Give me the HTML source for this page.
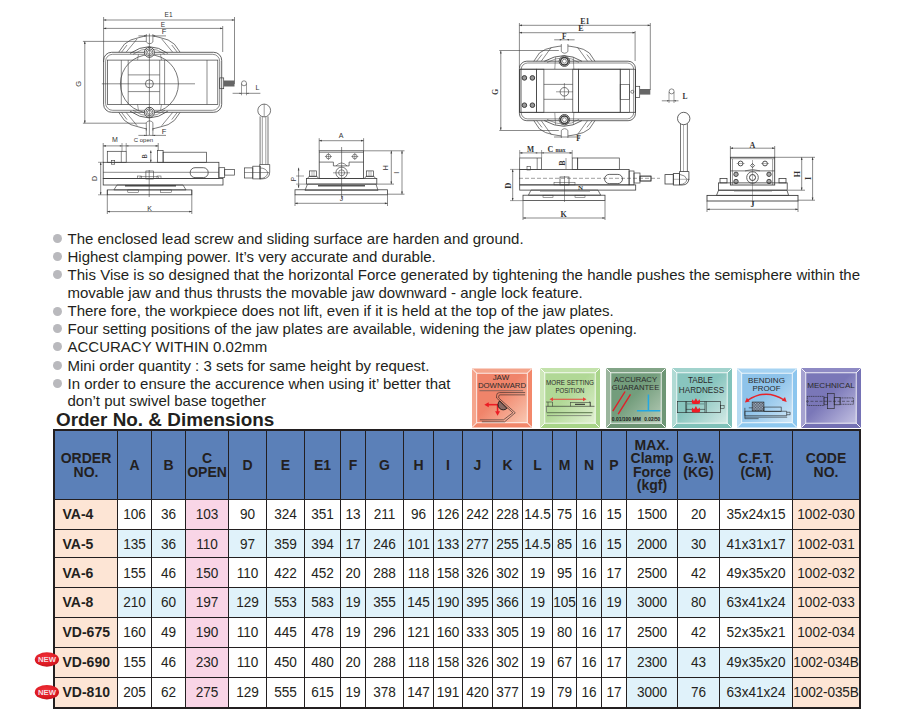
<!DOCTYPE html>
<html><head><meta charset="utf-8">
<style>
html,body{margin:0;padding:0;background:#fff;}
body{width:914px;height:711px;position:relative;overflow:hidden;font-family:"Liberation Sans",sans-serif;color:#231f20;}
.tb,.hc,.bc,.oc{position:absolute;box-sizing:border-box;}
.hc{display:flex;align-items:center;justify-content:center;text-align:center;font-weight:bold;font-size:14px;line-height:13.4px;padding-top:1px;}
.bc{display:flex;align-items:center;justify-content:center;font-size:13.6px;white-space:nowrap;}
.oc{display:flex;align-items:center;font-weight:bold;font-size:14px;padding-left:7.5px;white-space:nowrap;}
.bc span,.oc span{display:inline-block;transform:scaleY(1.1);transform-origin:50% 79%;position:relative;top:-0.3px;}
.bl{position:absolute;left:67.5px;font-size:15px;line-height:18px;white-space:nowrap;color:#231f20;}
.dot{position:absolute;left:53px;width:9px;height:9px;border-radius:50%;background:#b9b9bd;}
.title{position:absolute;left:56px;top:409.3px;font-size:18.9px;font-weight:bold;line-height:22px;white-space:nowrap;}
.ic{position:absolute;top:368px;width:60px;height:60px;box-sizing:border-box;overflow:hidden;}
</style></head><body>

<div class="dot" style="top:234.3px"></div>
<div class="dot" style="top:252.0px"></div>
<div class="dot" style="top:270.1px"></div>
<div class="dot" style="top:306.5px"></div>
<div class="dot" style="top:324.3px"></div>
<div class="dot" style="top:342.4px"></div>
<div class="dot" style="top:361.0px"></div>
<div class="dot" style="top:378.8px"></div>
<div class="bl" style="top:230.0px;">The enclosed lead screw and sliding surface are harden and ground.</div>
<div class="bl" style="top:247.7px;">Highest clamping power. It’s very accurate and durable.</div>
<div class="bl" style="top:265.8px;letter-spacing:0.027px;">This Vise is so designed that the horizontal Force generated by tightening the handle pushes the semisphere within the</div>
<div class="bl" style="top:283.6px;">movable jaw and thus thrusts the movable jaw downward - angle lock feature.</div>
<div class="bl" style="top:302.2px;">There fore, the workpiece does not lift, even if it is held at the top of the jaw plates.</div>
<div class="bl" style="top:320.0px;">Four setting positions of the jaw plates are available, widening the jaw plates opening.</div>
<div class="bl" style="top:338.1px;">ACCURACY WITHIN 0.02mm</div>
<div class="bl" style="top:356.7px;">Mini order quantity : 3 sets for same height by request.</div>
<div class="bl" style="top:374.5px;">In order to ensure the accurence when using it’ better that</div>
<div class="bl" style="top:391.5px;">don’t put swivel base together</div>
<div class="title">Order No. &amp; Dimensions</div>
<div class="tb" style="left:53px;top:429px;width:808px;height:280px;background:#231f20"></div>
<div class="hc" style="left:55px;top:431px;width:62px;height:68px;background:#5b80b8">ORDER<br>NO.</div>
<div class="hc" style="left:118px;top:431px;width:33px;height:68px;background:#5b80b8">A</div>
<div class="hc" style="left:152px;top:431px;width:33px;height:68px;background:#5b80b8">B</div>
<div class="hc" style="left:186px;top:431px;width:42px;height:68px;background:#5b80b8">C<br>OPEN</div>
<div class="hc" style="left:229px;top:431px;width:37px;height:68px;background:#5b80b8">D</div>
<div class="hc" style="left:267px;top:431px;width:37px;height:68px;background:#5b80b8">E</div>
<div class="hc" style="left:305px;top:431px;width:35px;height:68px;background:#5b80b8">E1</div>
<div class="hc" style="left:341px;top:431px;width:24px;height:68px;background:#5b80b8">F</div>
<div class="hc" style="left:366px;top:431px;width:37px;height:68px;background:#5b80b8">G</div>
<div class="hc" style="left:404px;top:431px;width:29px;height:68px;background:#5b80b8">H</div>
<div class="hc" style="left:434px;top:431px;width:28px;height:68px;background:#5b80b8">I</div>
<div class="hc" style="left:463px;top:431px;width:29px;height:68px;background:#5b80b8">J</div>
<div class="hc" style="left:493px;top:431px;width:29px;height:68px;background:#5b80b8">K</div>
<div class="hc" style="left:523px;top:431px;width:29px;height:68px;background:#5b80b8">L</div>
<div class="hc" style="left:553px;top:431px;width:23px;height:68px;background:#5b80b8">M</div>
<div class="hc" style="left:577px;top:431px;width:24px;height:68px;background:#5b80b8">N</div>
<div class="hc" style="left:602px;top:431px;width:24px;height:68px;background:#5b80b8">P</div>
<div class="hc" style="left:627px;top:431px;width:50px;height:68px;background:#5b80b8">MAX.<br>Clamp<br>Force<br>(kgf)</div>
<div class="hc" style="left:678px;top:431px;width:41px;height:68px;background:#5b80b8">G.W.<br>(KG)</div>
<div class="hc" style="left:720px;top:431px;width:72px;height:68px;background:#5b80b8">C.F.T.<br>(CM)</div>
<div class="hc" style="left:793px;top:431px;width:66px;height:68px;background:#5b80b8">CODE<br>NO.</div>
<div class="oc" style="left:55px;top:500px;width:62px;height:29px;background:#fde5d5"><span>VA-4</span></div>
<div class="bc" style="left:118px;top:500px;width:33px;height:29px;background:#fff"><span>106</span></div>
<div class="bc" style="left:152px;top:500px;width:33px;height:29px;background:#fff"><span>36</span></div>
<div class="bc" style="left:186px;top:500px;width:42px;height:29px;background:#f9d5e6"><span>103</span></div>
<div class="bc" style="left:229px;top:500px;width:37px;height:29px;background:#fff"><span>90</span></div>
<div class="bc" style="left:267px;top:500px;width:37px;height:29px;background:#fff"><span>324</span></div>
<div class="bc" style="left:305px;top:500px;width:35px;height:29px;background:#fff"><span>351</span></div>
<div class="bc" style="left:341px;top:500px;width:24px;height:29px;background:#fff"><span>13</span></div>
<div class="bc" style="left:366px;top:500px;width:37px;height:29px;background:#fff"><span>211</span></div>
<div class="bc" style="left:404px;top:500px;width:29px;height:29px;background:#fff"><span>96</span></div>
<div class="bc" style="left:434px;top:500px;width:28px;height:29px;background:#fff"><span>126</span></div>
<div class="bc" style="left:463px;top:500px;width:29px;height:29px;background:#fff"><span>242</span></div>
<div class="bc" style="left:493px;top:500px;width:29px;height:29px;background:#fff"><span>228</span></div>
<div class="bc" style="left:523px;top:500px;width:29px;height:29px;background:#fff"><span>14.5</span></div>
<div class="bc" style="left:553px;top:500px;width:23px;height:29px;background:#fff"><span>75</span></div>
<div class="bc" style="left:577px;top:500px;width:24px;height:29px;background:#fff"><span>16</span></div>
<div class="bc" style="left:602px;top:500px;width:24px;height:29px;background:#fff"><span>15</span></div>
<div class="bc" style="left:627px;top:500px;width:50px;height:29px;background:#fff"><span>1500</span></div>
<div class="bc" style="left:678px;top:500px;width:41px;height:29px;background:#fff"><span>20</span></div>
<div class="bc" style="left:720px;top:500px;width:72px;height:29px;background:#fff"><span>35x24x15</span></div>
<div class="bc" style="left:793px;top:500px;width:66px;height:29px;background:#fde5d5"><span>1002-030</span></div>
<div class="oc" style="left:55px;top:530px;width:62px;height:27px;background:#fde5d5"><span style="top:0.7px">VA-5</span></div>
<div class="bc" style="left:118px;top:530px;width:33px;height:27px;background:#e0f2fa"><span style="top:0.7px">135</span></div>
<div class="bc" style="left:152px;top:530px;width:33px;height:27px;background:#e0f2fa"><span style="top:0.7px">36</span></div>
<div class="bc" style="left:186px;top:530px;width:42px;height:27px;background:#f9d5e6"><span style="top:0.7px">110</span></div>
<div class="bc" style="left:229px;top:530px;width:37px;height:27px;background:#e0f2fa"><span style="top:0.7px">97</span></div>
<div class="bc" style="left:267px;top:530px;width:37px;height:27px;background:#e0f2fa"><span style="top:0.7px">359</span></div>
<div class="bc" style="left:305px;top:530px;width:35px;height:27px;background:#e0f2fa"><span style="top:0.7px">394</span></div>
<div class="bc" style="left:341px;top:530px;width:24px;height:27px;background:#e0f2fa"><span style="top:0.7px">17</span></div>
<div class="bc" style="left:366px;top:530px;width:37px;height:27px;background:#e0f2fa"><span style="top:0.7px">246</span></div>
<div class="bc" style="left:404px;top:530px;width:29px;height:27px;background:#e0f2fa"><span style="top:0.7px">101</span></div>
<div class="bc" style="left:434px;top:530px;width:28px;height:27px;background:#e0f2fa"><span style="top:0.7px">133</span></div>
<div class="bc" style="left:463px;top:530px;width:29px;height:27px;background:#e0f2fa"><span style="top:0.7px">277</span></div>
<div class="bc" style="left:493px;top:530px;width:29px;height:27px;background:#e0f2fa"><span style="top:0.7px">255</span></div>
<div class="bc" style="left:523px;top:530px;width:29px;height:27px;background:#e0f2fa"><span style="top:0.7px">14.5</span></div>
<div class="bc" style="left:553px;top:530px;width:23px;height:27px;background:#e0f2fa"><span style="top:0.7px">85</span></div>
<div class="bc" style="left:577px;top:530px;width:24px;height:27px;background:#e0f2fa"><span style="top:0.7px">16</span></div>
<div class="bc" style="left:602px;top:530px;width:24px;height:27px;background:#e0f2fa"><span style="top:0.7px">15</span></div>
<div class="bc" style="left:627px;top:530px;width:50px;height:27px;background:#e0f2fa"><span style="top:0.7px">2000</span></div>
<div class="bc" style="left:678px;top:530px;width:41px;height:27px;background:#e0f2fa"><span style="top:0.7px">30</span></div>
<div class="bc" style="left:720px;top:530px;width:72px;height:27px;background:#e0f2fa"><span style="top:0.7px">41x31x17</span></div>
<div class="bc" style="left:793px;top:530px;width:66px;height:27px;background:#fde5d5"><span style="top:0.7px">1002-031</span></div>
<div class="oc" style="left:55px;top:558px;width:62px;height:29px;background:#fde5d5"><span style="top:0.7px">VA-6</span></div>
<div class="bc" style="left:118px;top:558px;width:33px;height:29px;background:#fff"><span style="top:0.7px">155</span></div>
<div class="bc" style="left:152px;top:558px;width:33px;height:29px;background:#fff"><span style="top:0.7px">46</span></div>
<div class="bc" style="left:186px;top:558px;width:42px;height:29px;background:#f9d5e6"><span style="top:0.7px">150</span></div>
<div class="bc" style="left:229px;top:558px;width:37px;height:29px;background:#fff"><span style="top:0.7px">110</span></div>
<div class="bc" style="left:267px;top:558px;width:37px;height:29px;background:#fff"><span style="top:0.7px">422</span></div>
<div class="bc" style="left:305px;top:558px;width:35px;height:29px;background:#fff"><span style="top:0.7px">452</span></div>
<div class="bc" style="left:341px;top:558px;width:24px;height:29px;background:#fff"><span style="top:0.7px">20</span></div>
<div class="bc" style="left:366px;top:558px;width:37px;height:29px;background:#fff"><span style="top:0.7px">288</span></div>
<div class="bc" style="left:404px;top:558px;width:29px;height:29px;background:#fff"><span style="top:0.7px">118</span></div>
<div class="bc" style="left:434px;top:558px;width:28px;height:29px;background:#fff"><span style="top:0.7px">158</span></div>
<div class="bc" style="left:463px;top:558px;width:29px;height:29px;background:#fff"><span style="top:0.7px">326</span></div>
<div class="bc" style="left:493px;top:558px;width:29px;height:29px;background:#fff"><span style="top:0.7px">302</span></div>
<div class="bc" style="left:523px;top:558px;width:29px;height:29px;background:#fff"><span style="top:0.7px">19</span></div>
<div class="bc" style="left:553px;top:558px;width:23px;height:29px;background:#fff"><span style="top:0.7px">95</span></div>
<div class="bc" style="left:577px;top:558px;width:24px;height:29px;background:#fff"><span style="top:0.7px">16</span></div>
<div class="bc" style="left:602px;top:558px;width:24px;height:29px;background:#fff"><span style="top:0.7px">17</span></div>
<div class="bc" style="left:627px;top:558px;width:50px;height:29px;background:#fff"><span style="top:0.7px">2500</span></div>
<div class="bc" style="left:678px;top:558px;width:41px;height:29px;background:#fff"><span style="top:0.7px">42</span></div>
<div class="bc" style="left:720px;top:558px;width:72px;height:29px;background:#fff"><span style="top:0.7px">49x35x20</span></div>
<div class="bc" style="left:793px;top:558px;width:66px;height:29px;background:#fde5d5"><span style="top:0.7px">1002-032</span></div>
<div class="oc" style="left:55px;top:588px;width:62px;height:29px;background:#fde5d5"><span>VA-8</span></div>
<div class="bc" style="left:118px;top:588px;width:33px;height:29px;background:#e0f2fa"><span>210</span></div>
<div class="bc" style="left:152px;top:588px;width:33px;height:29px;background:#e0f2fa"><span>60</span></div>
<div class="bc" style="left:186px;top:588px;width:42px;height:29px;background:#f9d5e6"><span>197</span></div>
<div class="bc" style="left:229px;top:588px;width:37px;height:29px;background:#e0f2fa"><span>129</span></div>
<div class="bc" style="left:267px;top:588px;width:37px;height:29px;background:#e0f2fa"><span>553</span></div>
<div class="bc" style="left:305px;top:588px;width:35px;height:29px;background:#e0f2fa"><span>583</span></div>
<div class="bc" style="left:341px;top:588px;width:24px;height:29px;background:#e0f2fa"><span>19</span></div>
<div class="bc" style="left:366px;top:588px;width:37px;height:29px;background:#e0f2fa"><span>355</span></div>
<div class="bc" style="left:404px;top:588px;width:29px;height:29px;background:#e0f2fa"><span>145</span></div>
<div class="bc" style="left:434px;top:588px;width:28px;height:29px;background:#e0f2fa"><span>190</span></div>
<div class="bc" style="left:463px;top:588px;width:29px;height:29px;background:#e0f2fa"><span>395</span></div>
<div class="bc" style="left:493px;top:588px;width:29px;height:29px;background:#e0f2fa"><span>366</span></div>
<div class="bc" style="left:523px;top:588px;width:29px;height:29px;background:#e0f2fa"><span>19</span></div>
<div class="bc" style="left:553px;top:588px;width:23px;height:29px;background:#e0f2fa"><span>105</span></div>
<div class="bc" style="left:577px;top:588px;width:24px;height:29px;background:#e0f2fa"><span>16</span></div>
<div class="bc" style="left:602px;top:588px;width:24px;height:29px;background:#e0f2fa"><span>19</span></div>
<div class="bc" style="left:627px;top:588px;width:50px;height:29px;background:#e0f2fa"><span>3000</span></div>
<div class="bc" style="left:678px;top:588px;width:41px;height:29px;background:#e0f2fa"><span>80</span></div>
<div class="bc" style="left:720px;top:588px;width:72px;height:29px;background:#e0f2fa"><span>63x41x24</span></div>
<div class="bc" style="left:793px;top:588px;width:66px;height:29px;background:#fde5d5"><span>1002-033</span></div>
<div class="oc" style="left:55px;top:618px;width:62px;height:29px;background:#fde5d5"><span>VD-675</span></div>
<div class="bc" style="left:118px;top:618px;width:33px;height:29px;background:#fff"><span>160</span></div>
<div class="bc" style="left:152px;top:618px;width:33px;height:29px;background:#fff"><span>49</span></div>
<div class="bc" style="left:186px;top:618px;width:42px;height:29px;background:#f9d5e6"><span>190</span></div>
<div class="bc" style="left:229px;top:618px;width:37px;height:29px;background:#fff"><span>110</span></div>
<div class="bc" style="left:267px;top:618px;width:37px;height:29px;background:#fff"><span>445</span></div>
<div class="bc" style="left:305px;top:618px;width:35px;height:29px;background:#fff"><span>478</span></div>
<div class="bc" style="left:341px;top:618px;width:24px;height:29px;background:#fff"><span>19</span></div>
<div class="bc" style="left:366px;top:618px;width:37px;height:29px;background:#fff"><span>296</span></div>
<div class="bc" style="left:404px;top:618px;width:29px;height:29px;background:#fff"><span>121</span></div>
<div class="bc" style="left:434px;top:618px;width:28px;height:29px;background:#fff"><span>160</span></div>
<div class="bc" style="left:463px;top:618px;width:29px;height:29px;background:#fff"><span>333</span></div>
<div class="bc" style="left:493px;top:618px;width:29px;height:29px;background:#fff"><span>305</span></div>
<div class="bc" style="left:523px;top:618px;width:29px;height:29px;background:#fff"><span>19</span></div>
<div class="bc" style="left:553px;top:618px;width:23px;height:29px;background:#fff"><span>80</span></div>
<div class="bc" style="left:577px;top:618px;width:24px;height:29px;background:#fff"><span>16</span></div>
<div class="bc" style="left:602px;top:618px;width:24px;height:29px;background:#fff"><span>17</span></div>
<div class="bc" style="left:627px;top:618px;width:50px;height:29px;background:#fff"><span>2500</span></div>
<div class="bc" style="left:678px;top:618px;width:41px;height:29px;background:#fff"><span>42</span></div>
<div class="bc" style="left:720px;top:618px;width:72px;height:29px;background:#fff"><span>52x35x21</span></div>
<div class="bc" style="left:793px;top:618px;width:66px;height:29px;background:#fde5d5"><span>1002-034</span></div>
<div class="oc" style="left:55px;top:648px;width:62px;height:29px;background:#fde5d5"><span>VD-690</span></div>
<div class="bc" style="left:118px;top:648px;width:33px;height:29px;background:#fff"><span>155</span></div>
<div class="bc" style="left:152px;top:648px;width:33px;height:29px;background:#fff"><span>46</span></div>
<div class="bc" style="left:186px;top:648px;width:42px;height:29px;background:#f9d5e6"><span>230</span></div>
<div class="bc" style="left:229px;top:648px;width:37px;height:29px;background:#fff"><span>110</span></div>
<div class="bc" style="left:267px;top:648px;width:37px;height:29px;background:#fff"><span>450</span></div>
<div class="bc" style="left:305px;top:648px;width:35px;height:29px;background:#fff"><span>480</span></div>
<div class="bc" style="left:341px;top:648px;width:24px;height:29px;background:#fff"><span>20</span></div>
<div class="bc" style="left:366px;top:648px;width:37px;height:29px;background:#fff"><span>288</span></div>
<div class="bc" style="left:404px;top:648px;width:29px;height:29px;background:#fff"><span>118</span></div>
<div class="bc" style="left:434px;top:648px;width:28px;height:29px;background:#fff"><span>158</span></div>
<div class="bc" style="left:463px;top:648px;width:29px;height:29px;background:#fff"><span>326</span></div>
<div class="bc" style="left:493px;top:648px;width:29px;height:29px;background:#fff"><span>302</span></div>
<div class="bc" style="left:523px;top:648px;width:29px;height:29px;background:#fff"><span>19</span></div>
<div class="bc" style="left:553px;top:648px;width:23px;height:29px;background:#fff"><span>67</span></div>
<div class="bc" style="left:577px;top:648px;width:24px;height:29px;background:#fff"><span>16</span></div>
<div class="bc" style="left:602px;top:648px;width:24px;height:29px;background:#fff"><span>17</span></div>
<div class="bc" style="left:627px;top:648px;width:50px;height:29px;background:#e0f2fa"><span>2300</span></div>
<div class="bc" style="left:678px;top:648px;width:41px;height:29px;background:#e0f2fa"><span>43</span></div>
<div class="bc" style="left:720px;top:648px;width:72px;height:29px;background:#e0f2fa"><span>49x35x20</span></div>
<div class="bc" style="left:793px;top:648px;width:66px;height:29px;background:#fde5d5"><span style="letter-spacing:-0.12px">1002-034B</span></div>
<div class="oc" style="left:55px;top:678px;width:62px;height:29px;background:#fde5d5"><span>VD-810</span></div>
<div class="bc" style="left:118px;top:678px;width:33px;height:29px;background:#fff"><span>205</span></div>
<div class="bc" style="left:152px;top:678px;width:33px;height:29px;background:#fff"><span>62</span></div>
<div class="bc" style="left:186px;top:678px;width:42px;height:29px;background:#f9d5e6"><span>275</span></div>
<div class="bc" style="left:229px;top:678px;width:37px;height:29px;background:#fff"><span>129</span></div>
<div class="bc" style="left:267px;top:678px;width:37px;height:29px;background:#fff"><span>555</span></div>
<div class="bc" style="left:305px;top:678px;width:35px;height:29px;background:#fff"><span>615</span></div>
<div class="bc" style="left:341px;top:678px;width:24px;height:29px;background:#fff"><span>19</span></div>
<div class="bc" style="left:366px;top:678px;width:37px;height:29px;background:#fff"><span>378</span></div>
<div class="bc" style="left:404px;top:678px;width:29px;height:29px;background:#fff"><span>147</span></div>
<div class="bc" style="left:434px;top:678px;width:28px;height:29px;background:#fff"><span>191</span></div>
<div class="bc" style="left:463px;top:678px;width:29px;height:29px;background:#fff"><span>420</span></div>
<div class="bc" style="left:493px;top:678px;width:29px;height:29px;background:#fff"><span>377</span></div>
<div class="bc" style="left:523px;top:678px;width:29px;height:29px;background:#fff"><span>19</span></div>
<div class="bc" style="left:553px;top:678px;width:23px;height:29px;background:#fff"><span>79</span></div>
<div class="bc" style="left:577px;top:678px;width:24px;height:29px;background:#fff"><span>16</span></div>
<div class="bc" style="left:602px;top:678px;width:24px;height:29px;background:#fff"><span>17</span></div>
<div class="bc" style="left:627px;top:678px;width:50px;height:29px;background:#e0f2fa"><span>3000</span></div>
<div class="bc" style="left:678px;top:678px;width:41px;height:29px;background:#e0f2fa"><span>76</span></div>
<div class="bc" style="left:720px;top:678px;width:72px;height:29px;background:#e0f2fa"><span>63x41x24</span></div>
<div class="bc" style="left:793px;top:678px;width:66px;height:29px;background:#fde5d5"><span style="letter-spacing:-0.12px">1002-035B</span></div>
<svg style="position:absolute;left:30px;top:648px" width="34" height="56" viewBox="0 0 34 56">
<defs><radialGradient id="nb" cx="0.45" cy="0.35" r="0.7"><stop offset="0" stop-color="#f0323a"/><stop offset="0.7" stop-color="#dd1a22"/><stop offset="1" stop-color="#b8141c"/></radialGradient></defs>
<ellipse cx="16.9" cy="11.5" rx="12.1" ry="7.2" fill="url(#nb)"/>
<text x="17" y="14.1" font-family="Liberation Sans" font-weight="bold" font-size="7.6" fill="#f4dfe3" text-anchor="middle" textLength="18" lengthAdjust="spacingAndGlyphs">NEW</text>
<ellipse cx="16.9" cy="44.2" rx="12.1" ry="7.2" fill="url(#nb)"/>
<text x="17" y="46.8" font-family="Liberation Sans" font-weight="bold" font-size="7.6" fill="#f4dfe3" text-anchor="middle" textLength="18" lengthAdjust="spacingAndGlyphs">NEW</text>
</svg>

<style>.it{font-family:"Liberation Sans",sans-serif;font-size:8px;fill:#2b2b2b;stroke:none;text-anchor:middle;}</style>
<svg class="ic" style="left:472px" width="61" height="60" viewBox="0 0 61 60">
<defs><linearGradient id="g0" x1="0" y1="0" x2="1" y2="1"><stop offset="0.45" stop-color="#f0846a"/><stop offset="1" stop-color="#f9c8b2"/></linearGradient></defs>
<polygon points="0,0 61,0 56.2,4.8 4.8,4.8" fill="#f4a48b"/>
<polygon points="0,0 4.8,4.8 4.8,55.2 0,60" fill="#f5a58d"/>
<polygon points="0,60 4.8,55.2 56.2,55.2 61,60" fill="#f2876a"/>
<polygon points="61,0 61,60 56.2,55.2 56.2,4.8" fill="#f3886b"/>
<rect x="4.8" y="4.8" width="51.4" height="50.4" fill="url(#g0)"/>
<rect x="4.8" y="4.8" width="51.4" height="50.4" fill="none" stroke="#fff" stroke-opacity="0.85" stroke-width="0.9"/>
<path d="M0.5 0.5 L4.8 4.8 M60.5 0.5 L56.2 4.8 M0.5 59.5 L4.8 55.2 M60.5 59.5 L56.2 55.2" stroke="#fff" stroke-width="0.9"/>
<text x="29.4" y="11.7" class="it" textLength="16.8" lengthAdjust="spacingAndGlyphs">JAW</text>
<text x="30.5" y="20" class="it" textLength="49" lengthAdjust="spacingAndGlyphs">DOWNWARD</text>
<line x1="7.6" y1="22.6" x2="52" y2="22.6" stroke="#555" stroke-width="0.7"/>
<path d="M54 24.5 H28 Q25 24.5 25 27.5 V30 L41.5 45 L32 52.2 H8" fill="none" stroke="#222" stroke-width="0.6"/>
<path d="M54 26.8 H28.5 Q27.2 26.8 27.2 28.2 V30 L44 45 L33.2 54.2 H10" fill="none" stroke="#222" stroke-width="0.6"/>
<path d="M27 36.8 H15.5" stroke="#ec1c24" stroke-width="1.6"/>
<path d="M12.5 36.8 L17 34.3 V39.3 Z" fill="#ec1c24"/>
<path d="M26 36.8 V45" stroke="#ec1c24" stroke-width="1.6"/>
<path d="M26 48 L23.5 43.5 H28.5 Z" fill="#ec1c24"/>
<path d="M28 33 A4.2 4.2 0 0 0 35.5 40.5 Z" fill="#8a6a64" stroke="#111" stroke-width="0.9"/>
</svg>
<svg class="ic" style="left:540px" width="60" height="60" viewBox="0 0 60 60">
<defs><linearGradient id="g1" x1="0" y1="0" x2="1" y2="1"><stop offset="0.45" stop-color="#b1d896"/><stop offset="1" stop-color="#e2f1d3"/></linearGradient></defs>
<polygon points="0,0 60,0 55.2,4.8 4.8,4.8" fill="#c3e2ab"/>
<polygon points="0,0 4.8,4.8 4.8,55.2 0,60" fill="#cde7b8"/>
<polygon points="0,60 4.8,55.2 55.2,55.2 60,60" fill="#a8d488"/>
<polygon points="60,0 60,60 55.2,55.2 55.2,4.8" fill="#aad58b"/>
<rect x="4.8" y="4.8" width="50.4" height="50.4" fill="url(#g1)"/>
<rect x="4.8" y="4.8" width="50.4" height="50.4" fill="none" stroke="#fff" stroke-opacity="0.85" stroke-width="0.9"/>
<path d="M0.5 0.5 L4.8 4.8 M59.5 0.5 L55.2 4.8 M0.5 59.5 L4.8 55.2 M59.5 59.5 L55.2 55.2" stroke="#fff" stroke-width="0.9"/>
<text x="30" y="16.6" class="it" textLength="48" lengthAdjust="spacingAndGlyphs">MORE SETTING</text>
<text x="30" y="24.5" class="it" textLength="29" lengthAdjust="spacingAndGlyphs">POSITION</text>
<path d="M11.5 31.2 H44.5" stroke="#e8433a" stroke-width="1.1"/>
<path d="M9.5 31.2 L13 29.2 V33.2 Z M46.5 31.2 L43 29.2 V33.2 Z" fill="#e8433a"/>
<path d="M5.8 38.3 H54.5" stroke="#222" stroke-width="0.6"/>
<path d="M6 34 H8 V38.3 M8 34 H12.5 V38.3 M30.5 34 V38.3 M30.5 34.5 H50 V38.3 M49 34 H50.5 V38.3" fill="none" stroke="#222" stroke-width="0.5"/>
<path d="M35 36.3 H45" stroke="#222" stroke-width="1"/>
<path d="M6.5 38.5 V44" stroke="#777" stroke-width="0.8"/>
<path d="M6.5 44.7 H52.5" stroke="#6f8a5f" stroke-width="1.2"/>
<path d="M7 47.6 H51.5" stroke="#555" stroke-width="0.6"/>
</svg>
<svg class="ic" style="left:606px" width="60" height="60" viewBox="0 0 60 60">
<defs><linearGradient id="g2" x1="0" y1="0" x2="1" y2="1"><stop offset="0.45" stop-color="#739d7c"/><stop offset="1" stop-color="#b7ccb8"/></linearGradient></defs>
<polygon points="0,0 60,0 55.2,4.8 4.8,4.8" fill="#82a487"/>
<polygon points="0,0 4.8,4.8 4.8,55.2 0,60" fill="#9ab59d"/>
<polygon points="0,60 4.8,55.2 55.2,55.2 60,60" fill="#6c9373"/>
<polygon points="60,0 60,60 55.2,55.2 55.2,4.8" fill="#6e9675"/>
<rect x="4.8" y="4.8" width="50.4" height="50.4" fill="url(#g2)"/>
<rect x="4.8" y="4.8" width="50.4" height="50.4" fill="none" stroke="#fff" stroke-opacity="0.85" stroke-width="0.9"/>
<path d="M0.5 0.5 L4.8 4.8 M59.5 0.5 L55.2 4.8 M0.5 59.5 L4.8 55.2 M59.5 59.5 L55.2 55.2" stroke="#fff" stroke-width="0.9"/>
<text x="29.5" y="13.7" class="it" textLength="43" lengthAdjust="spacingAndGlyphs">ACCURACY</text>
<text x="29.5" y="21.5" class="it" textLength="47.5" lengthAdjust="spacingAndGlyphs">GUARANTEE</text>
<path d="M19.1 23.5 L6.8 43.2 M24.5 26.4 L12.2 46.1" stroke="#e0202a" stroke-width="1.4"/>
<path d="M42.4 26.4 V42.7 M30.9 42.7 H54.2" stroke="#22a8e2" stroke-width="1.5"/>
<text x="5.8" y="52.8" font-family="Liberation Sans" font-size="5.6" font-weight="bold" fill="#1a1a1a" textLength="29" lengthAdjust="spacingAndGlyphs">0.01/100 MM</text>
<text x="38.3" y="52.8" font-family="Liberation Sans" font-size="5.6" font-weight="bold" fill="#1a1a1a" textLength="16" lengthAdjust="spacingAndGlyphs">0.02/50</text>
</svg>
<svg class="ic" style="left:672px" width="60" height="60" viewBox="0 0 60 60">
<defs><linearGradient id="g3" x1="0" y1="0" x2="1" y2="1"><stop offset="0.45" stop-color="#88c5be"/><stop offset="1" stop-color="#d4eae6"/></linearGradient></defs>
<polygon points="0,0 60,0 55.2,4.8 4.8,4.8" fill="#a2d3cd"/>
<polygon points="0,0 4.8,4.8 4.8,55.2 0,60" fill="#b0dad4"/>
<polygon points="0,60 4.8,55.2 55.2,55.2 60,60" fill="#80c1b9"/>
<polygon points="60,0 60,60 55.2,55.2 55.2,4.8" fill="#82c3bb"/>
<rect x="4.8" y="4.8" width="50.4" height="50.4" fill="url(#g3)"/>
<rect x="4.8" y="4.8" width="50.4" height="50.4" fill="none" stroke="#fff" stroke-opacity="0.85" stroke-width="0.9"/>
<path d="M0.5 0.5 L4.8 4.8 M59.5 0.5 L55.2 4.8 M0.5 59.5 L4.8 55.2 M59.5 59.5 L55.2 55.2" stroke="#fff" stroke-width="0.9"/>
<text x="28.5" y="15.4" class="it" style="font-size:8.6px" textLength="25" lengthAdjust="spacingAndGlyphs">TABLE</text>
<text x="29.5" y="25.2" class="it" style="font-size:8.6px" textLength="45.3" lengthAdjust="spacingAndGlyphs">HARDNESS</text>
<rect x="5.3" y="33.3" width="43.3" height="11.4" fill="none" stroke="#222" stroke-width="0.6"/>
<path d="M13.7 33.3 V44.7 M14.6 33.3 V44.7 M32.9 33.3 V44.7 M34.3 33.3 V44.7 M14 41.4 H33" stroke="#222" stroke-width="0.55"/><path d="M14.6 35.9 H32.9" stroke="#6a9590" stroke-width="1.1"/>
<rect x="48.6" y="37.3" width="3.5" height="3" fill="none" stroke="#222" stroke-width="0.5"/>
<path d="M20 35.6 Q19.3 33 20.3 31.3 L22 33.2 L23.9 30.2 L25.8 33.2 L27.5 31.3 Q28.5 33 27.8 35.6 Q24 36.6 20 35.6 Z" fill="#ee1c25"/>
<path d="M20 44 Q19.3 41.4 20.3 39.4 L22 41.4 L23.9 38.1 L25.8 41.4 L27.5 39.4 Q28.5 41.4 27.8 44 Q24 45 20 44 Z" fill="#ee1c25"/>
</svg>
<svg class="ic" style="left:737px" width="61" height="60" viewBox="0 0 61 60">
<defs><linearGradient id="g4" x1="0" y1="0" x2="1" y2="1"><stop offset="0.45" stop-color="#8ec3ea"/><stop offset="1" stop-color="#d2e8f7"/></linearGradient></defs>
<polygon points="0,0 61,0 56.2,4.8 4.8,4.8" fill="#a6d3f2"/>
<polygon points="0,0 4.8,4.8 4.8,55.2 0,60" fill="#b7dbf3"/>
<polygon points="0,60 4.8,55.2 56.2,55.2 61,60" fill="#8ec8ef"/>
<polygon points="61,0 61,60 56.2,55.2 56.2,4.8" fill="#8cc6ee"/>
<rect x="4.8" y="4.8" width="51.4" height="50.4" fill="url(#g4)"/>
<rect x="4.8" y="4.8" width="51.4" height="50.4" fill="none" stroke="#fff" stroke-opacity="0.85" stroke-width="0.9"/>
<path d="M0.5 0.5 L4.8 4.8 M60.5 0.5 L56.2 4.8 M0.5 59.5 L4.8 55.2 M60.5 59.5 L56.2 55.2" stroke="#fff" stroke-width="0.9"/>
<text x="30" y="14.4" class="it" textLength="37.5" lengthAdjust="spacingAndGlyphs">BENDING</text>
<text x="30" y="23" class="it" textLength="28.5" lengthAdjust="spacingAndGlyphs">PROOF</text>
<path d="M10.5 32.5 Q29 20 48 32" fill="none" stroke="#e8232a" stroke-width="1.4"/>
<path d="M8 34.5 L10 29.8 L13 33.5 Z M50.5 34 L45.5 32.5 L48.8 29 Z" fill="#e8232a"/>
<defs><pattern id="hp" width="1.6" height="1.6" patternUnits="userSpaceOnUse"><rect width="1.6" height="1.6" fill="#a9b8c8"/><rect width="0.8" height="0.8" fill="#4a5260"/><rect x="0.8" y="0.8" width="0.8" height="0.8" fill="#4a5260"/></pattern></defs><rect x="15.4" y="34.1" width="12" height="9.1" fill="url(#hp)" stroke="#222" stroke-width="0.6"/>
<rect x="27.4" y="39.2" width="17.5" height="4.5" fill="none" stroke="#222" stroke-width="0.6"/>
<path d="M8 43.5 H50.5 V48 H8 Z M8 40 V51 M8 49.5 H51 M8 51 H22 M50.5 44.5 H54 V47 H50.5 M12 40 H15.4" fill="none" stroke="#222" stroke-width="0.6"/>
</svg>
<svg class="ic" style="left:801px" width="60" height="60" viewBox="0 0 60 60">
<defs><linearGradient id="g5" x1="0" y1="0" x2="1" y2="1"><stop offset="0.45" stop-color="#7a77b8"/><stop offset="1" stop-color="#c2c0e2"/></linearGradient></defs>
<polygon points="0,0 60,0 55.2,4.8 4.8,4.8" fill="#8e8ac4"/>
<polygon points="0,0 4.8,4.8 4.8,55.2 0,60" fill="#a5a2d0"/>
<polygon points="0,60 4.8,55.2 55.2,55.2 60,60" fill="#7471b4"/>
<polygon points="60,0 60,60 55.2,55.2 55.2,4.8" fill="#7572b5"/>
<rect x="4.8" y="4.8" width="50.4" height="50.4" fill="url(#g5)"/>
<rect x="4.8" y="4.8" width="50.4" height="50.4" fill="none" stroke="#fff" stroke-opacity="0.85" stroke-width="0.9"/>
<path d="M0.5 0.5 L4.8 4.8 M59.5 0.5 L55.2 4.8 M0.5 59.5 L4.8 55.2 M59.5 59.5 L55.2 55.2" stroke="#fff" stroke-width="0.9"/>
<text x="30" y="19.6" class="it" textLength="47.7" lengthAdjust="spacingAndGlyphs">MECHNICAL</text>
<rect x="6.3" y="28.4" width="16.7" height="9.1" fill="none" stroke="#222" stroke-width="0.6" stroke-dasharray="1.2 0.6"/>
<path d="M5 33.3 H54" stroke="#222" stroke-width="0.5" stroke-dasharray="3 1.5"/>
<rect x="23" y="29.4" width="3.3" height="7.4" fill="none" stroke="#222" stroke-width="0.5"/>
<rect x="26.3" y="25.5" width="6.9" height="15.2" fill="none" stroke="#222" stroke-width="0.6"/>
<rect x="33.2" y="29.4" width="5.9" height="7.4" fill="none" stroke="#222" stroke-width="0.6"/>
<rect x="39.1" y="29.9" width="13.3" height="6.4" fill="none" stroke="#222" stroke-width="0.6" stroke-dasharray="1.2 0.5"/>
</svg>
<svg style="position:absolute;left:0;top:0" width="914" height="222" viewBox="0 0 914 222"><line x1="103.6" y1="20" x2="234.5" y2="20" stroke="#3c3c3c" stroke-width="0.6" />
<path d="M103.60 20.00 L106.20 19.17 L106.20 20.83 Z" fill="#3c3c3c"/>
<path d="M234.50 20.00 L231.90 20.83 L231.90 19.17 Z" fill="#3c3c3c"/>
<text x="168.6" y="17" font-family="Liberation Sans" font-size="6.5" fill="#333" text-anchor="middle">E1</text>
<line x1="103.6" y1="28.4" x2="222.7" y2="28.4" stroke="#3c3c3c" stroke-width="0.6" />
<path d="M103.60 28.40 L106.20 27.57 L106.20 29.23 Z" fill="#3c3c3c"/>
<path d="M222.70 28.40 L220.10 29.23 L220.10 27.57 Z" fill="#3c3c3c"/>
<text x="163" y="26.5" font-family="Liberation Sans" font-size="6.5" fill="#333" text-anchor="middle">E</text>
<line x1="138.4" y1="35.9" x2="166" y2="35.9" stroke="#3c3c3c" stroke-width="0.6" />
<path d="M146.30 35.90 L144.10 36.60 L144.10 35.20 Z" fill="#3c3c3c"/>
<path d="M152.90 35.90 L155.10 35.20 L155.10 36.60 Z" fill="#3c3c3c"/>
<text x="164" y="33.5" font-family="Liberation Sans" font-size="7.5" fill="#333" text-anchor="middle">F</text>
<line x1="103.6" y1="17" x2="103.6" y2="62" stroke="#3c3c3c" stroke-width="0.6" />
<line x1="234.5" y1="17" x2="234.5" y2="84" stroke="#3c3c3c" stroke-width="0.6" />
<line x1="222.7" y1="26" x2="222.7" y2="52" stroke="#3c3c3c" stroke-width="0.6" />
<line x1="84.8" y1="41.4" x2="84.8" y2="123.2" stroke="#3c3c3c" stroke-width="0.6" />
<path d="M84.80 41.40 L85.63 44.00 L83.97 44.00 Z" fill="#3c3c3c"/>
<path d="M84.80 123.20 L83.97 120.60 L85.63 120.60 Z" fill="#3c3c3c"/>
<text x="81.5" y="83.8" font-family="Liberation Sans" font-size="7.5" fill="#333" text-anchor="middle" transform="rotate(-90 81.5 83.8)">G</text>
<line x1="82.9" y1="41.4" x2="146" y2="41.4" stroke="#3c3c3c" stroke-width="0.6" />
<line x1="82.9" y1="123.2" x2="146" y2="123.2" stroke="#3c3c3c" stroke-width="0.6" />
<g >
<path d="M118.8 52.1 L124.4 44.2 Q130 39 138.9 37.6 Q145 36 146.3 35.8 M152.9 35.8 Q154 36 160 37.6 Q169 39 174.4 44.2 L180 52.1" fill="none" stroke="#3c3c3c" stroke-width="0.7" />
<path d="M121.6 52.1 L127 45" fill="none" stroke="#3c3c3c" stroke-width="0.6" />
<path d="M177.2 52.1 L171.8 45" fill="none" stroke="#3c3c3c" stroke-width="0.6" />
<path d="M126.2 52.1 L137.1 38.9 M172.6 52.1 L161.7 38.9" fill="none" stroke="#3c3c3c" stroke-width="0.6" />
<path d="M146.3 34 V42 Q149.6 45.5 152.9 42 V34" fill="none" stroke="#3c3c3c" stroke-width="0.6" />
<path d="M130.1 53.4 Q149.4 40 167.8 53.4" fill="none" stroke="#3c3c3c" stroke-width="0.8" />
<path d="M133 54.3 Q149.4 43 165 54.3" fill="none" stroke="#3c3c3c" stroke-width="0.5" />
<line x1="138.5" y1="54.3" x2="137.5" y2="60.1" stroke="#3c3c3c" stroke-width="0.5" />
<line x1="160.5" y1="54.3" x2="161.5" y2="60.1" stroke="#3c3c3c" stroke-width="0.5" />
</g>
<g transform="translate(0,164.6) scale(1,-1)">
<path d="M118.8 52.1 L124.4 44.2 Q130 39 138.9 37.6 Q145 36 146.3 35.8 M152.9 35.8 Q154 36 160 37.6 Q169 39 174.4 44.2 L180 52.1" fill="none" stroke="#3c3c3c" stroke-width="0.7" />
<path d="M121.6 52.1 L127 45" fill="none" stroke="#3c3c3c" stroke-width="0.6" />
<path d="M177.2 52.1 L171.8 45" fill="none" stroke="#3c3c3c" stroke-width="0.6" />
<path d="M126.2 52.1 L137.1 38.9 M172.6 52.1 L161.7 38.9" fill="none" stroke="#3c3c3c" stroke-width="0.6" />
<path d="M146.3 34 V42 Q149.6 45.5 152.9 42 V34" fill="none" stroke="#3c3c3c" stroke-width="0.6" />
<path d="M130.1 53.4 Q149.4 40 167.8 53.4" fill="none" stroke="#3c3c3c" stroke-width="0.8" />
<path d="M133 54.3 Q149.4 43 165 54.3" fill="none" stroke="#3c3c3c" stroke-width="0.5" />
<line x1="138.5" y1="54.3" x2="137.5" y2="60.1" stroke="#3c3c3c" stroke-width="0.5" />
<line x1="160.5" y1="54.3" x2="161.5" y2="60.1" stroke="#3c3c3c" stroke-width="0.5" />
</g>
<rect x="103.6" y="52.3" width="118.1" height="60.0" rx="8" fill="none" stroke="#3c3c3c" stroke-width="0.8" />
<rect x="105.6" y="54.3" width="114.1" height="56.0" rx="7" fill="none" stroke="#3c3c3c" stroke-width="0.6" />
<rect x="107.5" y="60.1" width="110.30000000000001" height="44.300000000000004" rx="0" fill="none" stroke="#3c3c3c" stroke-width="0.7" />
<circle cx="149.4" cy="83.8" r="29" fill="none" stroke="#3c3c3c" stroke-width="0.7"/>
<line x1="121.3" y1="60.1" x2="121.3" y2="104.4" stroke="#3c3c3c" stroke-width="0.6" />
<line x1="128.2" y1="60.1" x2="128.2" y2="104.4" stroke="#3c3c3c" stroke-width="0.6" />
<line x1="159.7" y1="60.1" x2="159.7" y2="104.4" stroke="#3c3c3c" stroke-width="0.6" />
<line x1="164.6" y1="60.1" x2="164.6" y2="104.4" stroke="#3c3c3c" stroke-width="0.6" />
<line x1="207" y1="60.1" x2="207" y2="104.4" stroke="#3c3c3c" stroke-width="0.6" />
<line x1="128.2" y1="74.9" x2="159.7" y2="74.9" stroke="#3c3c3c" stroke-width="0.6" />
<line x1="128.2" y1="91.6" x2="159.7" y2="91.6" stroke="#3c3c3c" stroke-width="0.6" />
<circle cx="149.4" cy="52.3" r="5" fill="#fff" stroke="#3c3c3c" stroke-width="0.9"/>
<circle cx="149.4" cy="52.3" r="3.5" fill="none" stroke="#3c3c3c" stroke-width="0.7"/>
<circle cx="149.4" cy="52.3" r="2" fill="none" stroke="#3c3c3c" stroke-width="0.6"/>
<circle cx="149.4" cy="112.3" r="5" fill="#fff" stroke="#3c3c3c" stroke-width="0.9"/>
<circle cx="149.4" cy="112.3" r="3.5" fill="none" stroke="#3c3c3c" stroke-width="0.7"/>
<circle cx="149.4" cy="112.3" r="2" fill="none" stroke="#3c3c3c" stroke-width="0.6"/>
<circle cx="149.4" cy="83.8" r="4" fill="none" stroke="#3c3c3c" stroke-width="0.7"/>
<line x1="101.8" y1="83.8" x2="195" y2="83.8" stroke="#3c3c3c" stroke-width="0.6" />
<line x1="149.4" y1="33.6" x2="149.4" y2="135" stroke="#3c3c3c" stroke-width="0.6" />
<line x1="138.4" y1="135.4" x2="166" y2="135.4" stroke="#3c3c3c" stroke-width="0.6" />
<path d="M146.30 135.40 L144.10 136.10 L144.10 134.70 Z" fill="#3c3c3c"/>
<path d="M152.90 135.40 L155.10 134.70 L155.10 136.10 Z" fill="#3c3c3c"/>
<text x="164" y="133.7" font-family="Liberation Sans" font-size="7.5" fill="#333" text-anchor="middle">F</text>
<line x1="146.3" y1="128" x2="146.3" y2="136" stroke="#3c3c3c" stroke-width="0.6" />
<line x1="152.9" y1="128" x2="152.9" y2="136" stroke="#3c3c3c" stroke-width="0.6" />
<rect x="219.7" y="77.9" width="4.0" height="10.799999999999997" rx="0" fill="none" stroke="#3c3c3c" stroke-width="0.7" />
<rect x="223.7" y="80.5" width="10.800000000000011" height="6.0" rx="0" fill="#666" stroke="#3c3c3c" stroke-width="0" />
<circle cx="244" cy="83.3" r="2.5" fill="none" stroke="#3c3c3c" stroke-width="0.6"/>
<line x1="241.5" y1="83.5" x2="241.5" y2="95.3" stroke="#3c3c3c" stroke-width="0.5" />
<line x1="246.5" y1="83.5" x2="246.5" y2="95.3" stroke="#3c3c3c" stroke-width="0.5" />
<line x1="232.6" y1="93.3" x2="260.4" y2="93.3" stroke="#3c3c3c" stroke-width="0.6" />
<path d="M241.50 93.30 L239.50 93.94 L239.50 92.66 Z" fill="#3c3c3c"/>
<path d="M246.50 93.30 L248.50 92.66 L248.50 93.94 Z" fill="#3c3c3c"/>
<text x="257.5" y="90" font-family="Liberation Sans" font-size="7" fill="#333" text-anchor="middle">L</text>
<line x1="103.2" y1="145.9" x2="158.2" y2="145.9" stroke="#3c3c3c" stroke-width="0.6" />
<path d="M103.20 145.90 L105.80 145.07 L105.80 146.73 Z" fill="#3c3c3c"/>
<path d="M122.00 145.90 L119.80 146.60 L119.80 145.20 Z" fill="#3c3c3c"/>
<path d="M126.20 145.90 L128.40 145.20 L128.40 146.60 Z" fill="#3c3c3c"/>
<path d="M158.20 145.90 L155.60 146.73 L155.60 145.07 Z" fill="#3c3c3c"/>
<line x1="122" y1="143" x2="122" y2="151.3" stroke="#3c3c3c" stroke-width="0.5" />
<line x1="126.2" y1="143" x2="126.2" y2="151.3" stroke="#3c3c3c" stroke-width="0.5" />
<text x="115" y="141.5" font-family="Liberation Sans" font-size="7" fill="#333" text-anchor="middle">M</text>
<text x="143.4" y="141.5" font-family="Liberation Sans" font-size="6" fill="#333" text-anchor="middle">C open</text>
<line x1="103.2" y1="143" x2="103.2" y2="162.3" stroke="#3c3c3c" stroke-width="0.6" />
<line x1="158.2" y1="143" x2="158.2" y2="150.5" stroke="#3c3c3c" stroke-width="0.6" />
<rect x="107.3" y="151.3" width="18.900000000000006" height="11.0" rx="0" fill="none" stroke="#3c3c3c" stroke-width="0.7" />
<line x1="121.3" y1="151.3" x2="121.3" y2="162.3" stroke="#3c3c3c" stroke-width="0.6" />
<rect x="157.4" y="150.5" width="5.699999999999989" height="11.800000000000011" rx="0" fill="none" stroke="#3c3c3c" stroke-width="0.7" />
<rect x="163.1" y="152.2" width="43.5" height="10.100000000000023" rx="0" fill="none" stroke="#3c3c3c" stroke-width="0.7" />
<line x1="150.8" y1="150.5" x2="150.8" y2="162.3" stroke="#3c3c3c" stroke-width="0.6" />
<path d="M150.80 150.50 L151.63 153.10 L149.97 153.10 Z" fill="#3c3c3c"/>
<path d="M150.80 162.30 L149.97 159.70 L151.63 159.70 Z" fill="#3c3c3c"/>
<text x="147.5" y="156.4" font-family="Liberation Sans" font-size="6.5" fill="#333" text-anchor="middle" transform="rotate(-90 147.5 156.4)">B</text>
<rect x="111.4" y="160.4" width="3.299999999999997" height="3.799999999999983" rx="0" fill="none" stroke="#3c3c3c" stroke-width="0.6" />
<rect x="103.2" y="162.3" width="115.7" height="16.099999999999994" rx="0" fill="none" stroke="#3c3c3c" stroke-width="0.8" />
<line x1="103.2" y1="172.3" x2="218.9" y2="172.3" stroke="#3c3c3c" stroke-width="0.6" />
<rect x="190.2" y="167.7" width="18.0" height="9.900000000000006" rx="4.8" fill="none" stroke="#3c3c3c" stroke-width="0.8" />
<rect x="218.9" y="167.7" width="5.799999999999983" height="9.900000000000006" rx="0" fill="none" stroke="#3c3c3c" stroke-width="0.7" />
<rect x="224.7" y="169.4" width="9.800000000000011" height="5.699999999999989" rx="0" fill="none" stroke="#3c3c3c" stroke-width="0.7" />
<rect x="103.2" y="178.4" width="119.8" height="6.599999999999994" rx="0" fill="none" stroke="#3c3c3c" stroke-width="0.8" />
<path d="M113.9 189.9 L117 185 L183 185 L186 189.9 Z" fill="none" stroke="#3c3c3c" stroke-width="0.7" />
<line x1="125" y1="185.8" x2="176" y2="185.8" stroke="#444" stroke-width="1.6" />
<rect x="107.3" y="189.9" width="84.50000000000001" height="4.900000000000006" rx="0" fill="none" stroke="#3c3c3c" stroke-width="0.8" />
<rect x="127.8" y="189.9" width="10.700000000000003" height="2.5" rx="0" fill="none" stroke="#3c3c3c" stroke-width="0.5" />
<rect x="160.6" y="189.9" width="10.700000000000017" height="2.5" rx="0" fill="none" stroke="#3c3c3c" stroke-width="0.5" />
<line x1="100.7" y1="162.3" x2="100.7" y2="194.8" stroke="#3c3c3c" stroke-width="0.6" />
<path d="M100.70 162.30 L101.53 164.90 L99.87 164.90 Z" fill="#3c3c3c"/>
<path d="M100.70 194.80 L99.87 192.20 L101.53 192.20 Z" fill="#3c3c3c"/>
<text x="97.5" y="178.4" font-family="Liberation Sans" font-size="7" fill="#333" text-anchor="middle" transform="rotate(-90 97.5 178.4)">D</text>
<line x1="98" y1="162.3" x2="104" y2="162.3" stroke="#3c3c3c" stroke-width="0.5" />
<line x1="98" y1="194.8" x2="107.3" y2="194.8" stroke="#3c3c3c" stroke-width="0.5" />
<line x1="107.3" y1="211.6" x2="191.8" y2="211.6" stroke="#3c3c3c" stroke-width="0.6" />
<path d="M107.30 211.60 L109.90 210.77 L109.90 212.43 Z" fill="#3c3c3c"/>
<path d="M191.80 211.60 L189.20 212.43 L189.20 210.77 Z" fill="#3c3c3c"/>
<line x1="107.3" y1="190" x2="107.3" y2="214" stroke="#3c3c3c" stroke-width="0.6" />
<line x1="191.8" y1="190" x2="191.8" y2="214" stroke="#3c3c3c" stroke-width="0.6" />
<text x="149.6" y="210.5" font-family="Liberation Sans" font-size="7" fill="#333" text-anchor="middle">K</text>
<line x1="149.2" y1="170" x2="149.2" y2="197" stroke="#3c3c3c" stroke-width="0.6" />
<rect x="145.9" y="171" width="7.400000000000006" height="8" rx="0" fill="none" stroke="#3c3c3c" stroke-width="0.6" />
<rect x="140" y="176.8" width="18.5" height="1.5999999999999943" rx="0" fill="none" stroke="#3c3c3c" stroke-width="0.5" />
<rect x="137.5" y="176" width="4.0" height="2.4000000000000057" rx="0" fill="none" stroke="#3c3c3c" stroke-width="0.5" />
<rect x="157" y="176" width="4" height="2.4000000000000057" rx="0" fill="none" stroke="#3c3c3c" stroke-width="0.5" />
<circle cx="264.2" cy="110.5" r="6.4" fill="none" stroke="#3c3c3c" stroke-width="0.7"/>
<line x1="264.2" y1="104" x2="264.2" y2="116.9" stroke="#3c3c3c" stroke-width="0.5" />
<line x1="260.1" y1="116.4" x2="260.1" y2="164.5" stroke="#3c3c3c" stroke-width="0.7" />
<line x1="268" y1="116.4" x2="268" y2="164.5" stroke="#3c3c3c" stroke-width="0.7" />
<line x1="262.3" y1="116.9" x2="262.3" y2="164.5" stroke="#3c3c3c" stroke-width="0.5" />
<line x1="265.8" y1="116.9" x2="265.8" y2="164.5" stroke="#3c3c3c" stroke-width="0.5" />
<path d="M259.6 164.5 H269.7 V172 Q269.7 178.9 262 178.9 H259.6 Z" fill="none" stroke="#3c3c3c" stroke-width="0.7" />
<path d="M260.4 168 Q266 168 268 173 Q266 178.5 260.4 178.5" fill="none" stroke="#3c3c3c" stroke-width="0.6" />
<rect x="252.8" y="166.2" width="7.599999999999966" height="12.700000000000017" rx="0" fill="none" stroke="#3c3c3c" stroke-width="0.7" />
<line x1="252.8" y1="172.5" x2="269" y2="172.5" stroke="#3c3c3c" stroke-width="0.5" />
<rect x="244.4" y="167.9" width="8.400000000000006" height="10.099999999999994" rx="0" fill="none" stroke="#3c3c3c" stroke-width="0.7" />
<line x1="244.4" y1="172.5" x2="252.8" y2="172.5" stroke="#3c3c3c" stroke-width="0.5" />
<line x1="319.2" y1="140.7" x2="363.6" y2="140.7" stroke="#3c3c3c" stroke-width="0.6" />
<path d="M319.20 140.70 L321.80 139.87 L321.80 141.53 Z" fill="#3c3c3c"/>
<path d="M363.60 140.70 L361.00 141.53 L361.00 139.87 Z" fill="#3c3c3c"/>
<text x="341" y="137.5" font-family="Liberation Sans" font-size="7" fill="#333" text-anchor="middle">A</text>
<line x1="319.2" y1="138.2" x2="319.2" y2="150.8" stroke="#3c3c3c" stroke-width="0.6" />
<line x1="363.6" y1="138.2" x2="363.6" y2="150.8" stroke="#3c3c3c" stroke-width="0.6" />
<rect x="319.2" y="150.8" width="44.400000000000034" height="27.69999999999999" rx="0" fill="none" stroke="#3c3c3c" stroke-width="0.8" />
<line x1="319.2" y1="152.3" x2="363.6" y2="152.3" stroke="#3c3c3c" stroke-width="0.6" />
<path d="M319.2 162.1 H333.4 V165.9 H349.1 V162.1 H363.6" fill="none" stroke="#3c3c3c" stroke-width="0.7" />
<circle cx="328.4" cy="156.5" r="2.3" fill="none" stroke="#3c3c3c" stroke-width="0.6"/>
<line x1="324.9" y1="156.5" x2="331.9" y2="156.5" stroke="#3c3c3c" stroke-width="0.5" />
<line x1="328.4" y1="153" x2="328.4" y2="160" stroke="#3c3c3c" stroke-width="0.5" />
<circle cx="354.8" cy="156.5" r="2.3" fill="none" stroke="#3c3c3c" stroke-width="0.6"/>
<line x1="351.3" y1="156.5" x2="358.3" y2="156.5" stroke="#3c3c3c" stroke-width="0.5" />
<line x1="354.8" y1="153" x2="354.8" y2="160" stroke="#3c3c3c" stroke-width="0.5" />
<path d="M336 165.9 Q341.6 160 347 165.9" fill="none" stroke="#3c3c3c" stroke-width="0.6" />
<circle cx="341.6" cy="172.8" r="5.7" fill="none" stroke="#3c3c3c" stroke-width="0.7"/>
<circle cx="341.6" cy="172.8" r="3" fill="none" stroke="#3c3c3c" stroke-width="0.6"/>
<line x1="341.6" y1="147" x2="341.6" y2="199" stroke="#3c3c3c" stroke-width="0.6" />
<line x1="333" y1="172.8" x2="350" y2="172.8" stroke="#3c3c3c" stroke-width="0.5" />
<rect x="306.4" y="178.5" width="70.40000000000003" height="5.599999999999994" rx="0" fill="none" stroke="#3c3c3c" stroke-width="0.8" />
<rect x="309.5" y="170.9" width="7.0" height="5.400000000000006" rx="0" fill="none" stroke="#3c3c3c" stroke-width="0.7" />
<rect x="366.5" y="170.9" width="7.0" height="5.400000000000006" rx="0" fill="none" stroke="#3c3c3c" stroke-width="0.7" />
<path d="M307.6 178.5 L309 176.3 H317 L318.5 178.5 M364.5 178.5 L366 176.3 H374 L375.5 178.5" fill="none" stroke="#3c3c3c" stroke-width="0.7" />
<line x1="312" y1="171" x2="312" y2="176" stroke="#3c3c3c" stroke-width="0.4" />
<line x1="314" y1="171" x2="314" y2="176" stroke="#3c3c3c" stroke-width="0.4" />
<line x1="369" y1="171" x2="369" y2="176" stroke="#3c3c3c" stroke-width="0.4" />
<line x1="371" y1="171" x2="371" y2="176" stroke="#3c3c3c" stroke-width="0.4" />
<line x1="318" y1="185.7" x2="365" y2="185.7" stroke="#555" stroke-width="1.5" />
<path d="M305 190.4 L307.5 184.1 H376 L378 190.4 Z" fill="none" stroke="#3c3c3c" stroke-width="0.7" />
<rect x="295" y="189.8" width="92.5" height="5.0" rx="0" fill="none" stroke="#3c3c3c" stroke-width="0.8" />
<line x1="295" y1="203.3" x2="387.5" y2="203.3" stroke="#3c3c3c" stroke-width="0.6" />
<path d="M295.00 203.30 L297.60 202.47 L297.60 204.13 Z" fill="#3c3c3c"/>
<path d="M387.50 203.30 L384.90 204.13 L384.90 202.47 Z" fill="#3c3c3c"/>
<line x1="295" y1="194.8" x2="295" y2="206" stroke="#3c3c3c" stroke-width="0.6" />
<line x1="387.5" y1="194.8" x2="387.5" y2="206" stroke="#3c3c3c" stroke-width="0.6" />
<text x="341.5" y="200.5" font-family="Liberation Sans" font-size="7" fill="#333" text-anchor="middle">J</text>
<line x1="391.3" y1="150.8" x2="391.3" y2="184.1" stroke="#3c3c3c" stroke-width="0.6" />
<path d="M391.30 150.80 L392.13 153.40 L390.47 153.40 Z" fill="#3c3c3c"/>
<path d="M391.30 184.10 L390.47 181.50 L392.13 181.50 Z" fill="#3c3c3c"/>
<text x="388" y="167.8" font-family="Liberation Sans" font-size="7" fill="#333" text-anchor="middle" transform="rotate(-90 388 167.8)">H</text>
<line x1="402" y1="150.8" x2="402" y2="194.2" stroke="#3c3c3c" stroke-width="0.6" />
<path d="M402.00 150.80 L402.83 153.40 L401.17 153.40 Z" fill="#3c3c3c"/>
<path d="M402.00 194.20 L401.17 191.60 L402.83 191.60 Z" fill="#3c3c3c"/>
<text x="399" y="172.8" font-family="Liberation Sans" font-size="7" fill="#333" text-anchor="middle" transform="rotate(-90 399 172.8)">I</text>
<line x1="363.6" y1="150.8" x2="404.5" y2="150.8" stroke="#3c3c3c" stroke-width="0.6" />
<line x1="376.8" y1="184.1" x2="394" y2="184.1" stroke="#3c3c3c" stroke-width="0.6" />
<line x1="387.5" y1="194.2" x2="404.5" y2="194.2" stroke="#3c3c3c" stroke-width="0.6" />
<line x1="298.6" y1="167.8" x2="298.6" y2="187.9" stroke="#3c3c3c" stroke-width="0.6" />
<path d="M298.60 167.80 L299.43 170.40 L297.77 170.40 Z" fill="#3c3c3c"/>
<path d="M298.60 187.90 L297.77 185.30 L299.43 185.30 Z" fill="#3c3c3c"/>
<line x1="296" y1="176" x2="304" y2="176" stroke="#3c3c3c" stroke-width="0.5" />
<line x1="296" y1="184.1" x2="306.4" y2="184.1" stroke="#3c3c3c" stroke-width="0.5" />
<text x="296" y="179.1" font-family="Liberation Sans" font-size="6.5" fill="#333" text-anchor="middle" transform="rotate(-90 296 179.1)">P</text>
<line x1="519.4" y1="25.3" x2="650.3" y2="25.3" stroke="#3c3c3c" stroke-width="0.6" />
<path d="M519.40 25.30 L522.00 24.47 L522.00 26.13 Z" fill="#3c3c3c"/>
<path d="M650.30 25.30 L647.70 26.13 L647.70 24.47 Z" fill="#3c3c3c"/>
<text x="584.9" y="23.5" font-family="Liberation Serif" font-size="8" font-weight="bold" fill="#333" text-anchor="middle">E1</text>
<line x1="519.4" y1="32.7" x2="635.1" y2="32.7" stroke="#3c3c3c" stroke-width="0.6" />
<path d="M519.40 32.70 L522.00 31.87 L522.00 33.53 Z" fill="#3c3c3c"/>
<path d="M635.10 32.70 L632.50 33.53 L632.50 31.87 Z" fill="#3c3c3c"/>
<text x="580.8" y="31" font-family="Liberation Serif" font-size="8" font-weight="bold" fill="#333" text-anchor="middle">E</text>
<line x1="554.2" y1="39.8" x2="574.6" y2="39.8" stroke="#3c3c3c" stroke-width="0.6" />
<path d="M562.00 39.80 L559.80 40.50 L559.80 39.10 Z" fill="#3c3c3c"/>
<path d="M566.80 39.80 L569.00 39.10 L569.00 40.50 Z" fill="#3c3c3c"/>
<text x="564.4" y="38.5" font-family="Liberation Serif" font-size="7.5" font-weight="bold" fill="#333" text-anchor="middle">F</text>
<line x1="519.4" y1="23" x2="519.4" y2="67.7" stroke="#3c3c3c" stroke-width="0.6" />
<line x1="650.3" y1="23" x2="650.3" y2="90" stroke="#3c3c3c" stroke-width="0.6" />
<line x1="635.1" y1="31" x2="635.1" y2="61" stroke="#3c3c3c" stroke-width="0.6" />
<line x1="500.8" y1="50.9" x2="500.8" y2="130" stroke="#3c3c3c" stroke-width="0.6" />
<path d="M500.80 50.90 L501.63 53.50 L499.97 53.50 Z" fill="#3c3c3c"/>
<path d="M500.80 130.00 L499.97 127.40 L501.63 127.40 Z" fill="#3c3c3c"/>
<text x="498" y="91.8" font-family="Liberation Serif" font-size="8" font-weight="bold" fill="#333" text-anchor="middle" transform="rotate(-90 498 91.8)">G</text>
<line x1="499.3" y1="50.5" x2="558.8" y2="50.5" stroke="#3c3c3c" stroke-width="0.6" />
<line x1="499.3" y1="130.5" x2="558.8" y2="130.5" stroke="#3c3c3c" stroke-width="0.6" />
<g >
<path d="M533.8 61.3 L539.4 53 Q545 48.5 553 47.3 Q559 46.2 561.3 46 M567.9 46 Q570 46.2 576 47.3 Q584 48.5 589.4 53 L595 61.3" fill="none" stroke="#3c3c3c" stroke-width="0.7" />
<path d="M536.6 61.3 L542 54.5" fill="none" stroke="#3c3c3c" stroke-width="0.6" />
<path d="M592.2 61.3 L586.8 54.5" fill="none" stroke="#3c3c3c" stroke-width="0.6" />
<path d="M541.2 61.3 L551.3 47.3 M587.6 61.3 L577.5 47.3" fill="none" stroke="#3c3c3c" stroke-width="0.6" />
<path d="M561.3 44 V51.5 Q564.6 55 567.9 51.5 V44" fill="none" stroke="#3c3c3c" stroke-width="0.6" />
<path d="M544.3 61.3 Q564.4 50 581.9 61.3" fill="none" stroke="#3c3c3c" stroke-width="0.8" />
<path d="M547 62.5 Q564.4 53 579 62.5" fill="none" stroke="#3c3c3c" stroke-width="0.5" />
<line x1="555.5" y1="57.3" x2="554.8" y2="69.1" stroke="#3c3c3c" stroke-width="0.5" />
<line x1="573.3" y1="57.3" x2="573.8" y2="69.1" stroke="#3c3c3c" stroke-width="0.5" />
</g>
<g transform="translate(0,181.9) scale(1,-1)">
<path d="M533.8 61.3 L539.4 53 Q545 48.5 553 47.3 Q559 46.2 561.3 46 M567.9 46 Q570 46.2 576 47.3 Q584 48.5 589.4 53 L595 61.3" fill="none" stroke="#3c3c3c" stroke-width="0.7" />
<path d="M536.6 61.3 L542 54.5" fill="none" stroke="#3c3c3c" stroke-width="0.6" />
<path d="M592.2 61.3 L586.8 54.5" fill="none" stroke="#3c3c3c" stroke-width="0.6" />
<path d="M541.2 61.3 L551.3 47.3 M587.6 61.3 L577.5 47.3" fill="none" stroke="#3c3c3c" stroke-width="0.6" />
<path d="M561.3 44 V51.5 Q564.6 55 567.9 51.5 V44" fill="none" stroke="#3c3c3c" stroke-width="0.6" />
<path d="M544.3 61.3 Q564.4 50 581.9 61.3" fill="none" stroke="#3c3c3c" stroke-width="0.8" />
<path d="M547 62.5 Q564.4 53 579 62.5" fill="none" stroke="#3c3c3c" stroke-width="0.5" />
<line x1="555.5" y1="57.3" x2="554.8" y2="69.1" stroke="#3c3c3c" stroke-width="0.5" />
<line x1="573.3" y1="57.3" x2="573.8" y2="69.1" stroke="#3c3c3c" stroke-width="0.5" />
</g>
<rect x="519.4" y="61.2" width="116.10000000000002" height="59.5" rx="7.4" fill="none" stroke="#3c3c3c" stroke-width="0.8" />
<rect x="521.2" y="63" width="112.5" height="55.900000000000006" rx="6.4" fill="none" stroke="#3c3c3c" stroke-width="0.6" />
<rect x="519.8" y="69.2" width="115.70000000000005" height="43.099999999999994" rx="0" fill="none" stroke="#3c3c3c" stroke-width="0.8" />
<rect x="519.8" y="69.2" width="16.700000000000045" height="43.099999999999994" rx="0" fill="none" stroke="#3c3c3c" stroke-width="0.7" />
<circle cx="524.4" cy="77.9" r="2.3" fill="#999" stroke="#3c3c3c" stroke-width="1.0"/>
<circle cx="532.4" cy="77.9" r="2.3" fill="#999" stroke="#3c3c3c" stroke-width="1.0"/>
<circle cx="524.4" cy="105.2" r="2.3" fill="#999" stroke="#3c3c3c" stroke-width="1.0"/>
<circle cx="532.4" cy="105.2" r="2.3" fill="#999" stroke="#3c3c3c" stroke-width="1.0"/>
<rect x="536.5" y="69.2" width="7.399999999999977" height="43.099999999999994" rx="0" fill="none" stroke="#3c3c3c" stroke-width="0.7" />
<rect x="572.8" y="69.2" width="5.600000000000023" height="43.099999999999994" rx="0" fill="none" stroke="#3c3c3c" stroke-width="0.7" />
<line x1="543.9" y1="84.4" x2="572.8" y2="84.4" stroke="#3c3c3c" stroke-width="0.6" />
<line x1="543.9" y1="99.3" x2="572.8" y2="99.3" stroke="#3c3c3c" stroke-width="0.6" />
<rect x="578.4" y="69.2" width="41.80000000000007" height="43.099999999999994" rx="0" fill="none" stroke="#3c3c3c" stroke-width="0.7" />
<rect x="620.2" y="69.2" width="9.299999999999955" height="43.099999999999994" rx="0" fill="none" stroke="#3c3c3c" stroke-width="0.6" />
<rect x="620.2" y="84.4" width="9.299999999999955" height="14.899999999999991" rx="0" fill="none" stroke="#3c3c3c" stroke-width="0.6" />
<circle cx="564.4" cy="61.2" r="5.2" fill="#fff" stroke="#3c3c3c" stroke-width="0.9"/>
<circle cx="564.4" cy="61.2" r="3.8" fill="none" stroke="#3c3c3c" stroke-width="1.5"/>
<circle cx="564.4" cy="61.2" r="2" fill="none" stroke="#3c3c3c" stroke-width="0.6"/>
<circle cx="564.4" cy="119.7" r="5.2" fill="#fff" stroke="#3c3c3c" stroke-width="0.9"/>
<circle cx="564.4" cy="119.7" r="3.8" fill="none" stroke="#3c3c3c" stroke-width="1.5"/>
<circle cx="564.4" cy="119.7" r="2" fill="none" stroke="#3c3c3c" stroke-width="0.6"/>
<circle cx="564.4" cy="91.8" r="4.3" fill="none" stroke="#3c3c3c" stroke-width="0.7"/>
<line x1="556" y1="91.8" x2="573" y2="91.8" stroke="#3c3c3c" stroke-width="0.5" />
<line x1="564.4" y1="83" x2="564.4" y2="100" stroke="#3c3c3c" stroke-width="0.5" />
<line x1="554" y1="137" x2="580" y2="137" stroke="#3c3c3c" stroke-width="0.6" />
<text x="578.5" y="141" font-family="Liberation Serif" font-size="7.5" font-weight="bold" fill="#333" text-anchor="middle">F</text>
<rect x="635.5" y="86.3" width="4.2000000000000455" height="11.100000000000009" rx="0" fill="none" stroke="#3c3c3c" stroke-width="0.7" />
<rect x="639.7" y="89" width="10.599999999999909" height="5.599999999999994" rx="0" fill="#666" stroke="#3c3c3c" stroke-width="0" />
<circle cx="632.3" cy="91.8" r="1.5" fill="none" stroke="#3c3c3c" stroke-width="0.6"/>
<circle cx="671.6" cy="91.4" r="2.5" fill="none" stroke="#3c3c3c" stroke-width="0.6"/>
<line x1="669" y1="92" x2="669" y2="103" stroke="#3c3c3c" stroke-width="0.5" />
<line x1="674" y1="92" x2="674" y2="103" stroke="#3c3c3c" stroke-width="0.5" />
<line x1="661.8" y1="100.8" x2="678.5" y2="100.8" stroke="#3c3c3c" stroke-width="0.6" />
<path d="M669.00 100.80 L667.00 101.44 L667.00 100.16 Z" fill="#3c3c3c"/>
<path d="M674.00 100.80 L676.00 100.16 L676.00 101.44 Z" fill="#3c3c3c"/>
<text x="685" y="99" font-family="Liberation Serif" font-size="7.5" font-weight="bold" fill="#333" text-anchor="middle">L</text>
<line x1="519.7" y1="152.9" x2="572.2" y2="152.9" stroke="#3c3c3c" stroke-width="0.6" />
<path d="M519.70 152.90 L522.30 152.07 L522.30 153.73 Z" fill="#3c3c3c"/>
<path d="M538.00 152.90 L535.80 153.60 L535.80 152.20 Z" fill="#3c3c3c"/>
<path d="M541.60 152.90 L543.80 152.20 L543.80 153.60 Z" fill="#3c3c3c"/>
<path d="M572.20 152.90 L569.60 153.73 L569.60 152.07 Z" fill="#3c3c3c"/>
<text x="530.6" y="152.3" font-family="Liberation Serif" font-size="7.5" font-weight="bold" fill="#333" text-anchor="middle">M</text>
<text x="550.5" y="152.3" font-family="Liberation Serif" font-size="8" font-weight="bold" fill="#333" text-anchor="middle">C</text>
<text x="560.5" y="152.3" font-family="Liberation Serif" font-size="5.5" font-weight="bold" fill="#333" text-anchor="middle">max</text>
<line x1="519.7" y1="150" x2="519.7" y2="158" stroke="#3c3c3c" stroke-width="0.5" />
<line x1="572.2" y1="150" x2="572.2" y2="158" stroke="#3c3c3c" stroke-width="0.5" />
<line x1="541.6" y1="150" x2="541.6" y2="158" stroke="#3c3c3c" stroke-width="0.5" />
<rect x="519.7" y="158" width="21.899999999999977" height="11.400000000000006" rx="0" fill="none" stroke="#3c3c3c" stroke-width="0.7" />
<line x1="537.2" y1="158" x2="537.2" y2="169.4" stroke="#3c3c3c" stroke-width="0.6" />
<rect x="572.2" y="158" width="5.5" height="11.400000000000006" rx="0" fill="none" stroke="#3c3c3c" stroke-width="0.7" />
<rect x="577.7" y="158" width="41.59999999999991" height="11.400000000000006" rx="0" fill="none" stroke="#3c3c3c" stroke-width="0.7" />
<text x="565" y="163" font-family="Liberation Serif" font-size="8" font-weight="bold" fill="#333" text-anchor="middle" transform="rotate(-90 565 163)">B</text>
<line x1="566" y1="158" x2="566" y2="169" stroke="#3c3c3c" stroke-width="0.5" />
<rect x="527" y="166.5" width="3.5" height="3.5" rx="0" fill="none" stroke="#3c3c3c" stroke-width="0.6" />
<rect x="519.7" y="169.4" width="109.39999999999998" height="15.5" rx="0" fill="none" stroke="#3c3c3c" stroke-width="0.8" />
<line x1="519" y1="178.3" x2="660" y2="178.3" stroke="#3c3c3c" stroke-width="0.5" stroke-dasharray="4 2"/>
<rect x="604.6" y="174.4" width="17.899999999999977" height="9.199999999999989" rx="4.6" fill="none" stroke="#3c3c3c" stroke-width="0.8" />
<rect x="629.1" y="171" width="4.899999999999977" height="13.900000000000006" rx="0" fill="none" stroke="#3c3c3c" stroke-width="0.7" />
<rect x="634" y="173" width="6" height="10" rx="0" fill="none" stroke="#3c3c3c" stroke-width="0.7" />
<rect x="640" y="176.1" width="11" height="4.900000000000006" rx="0" fill="none" stroke="#3c3c3c" stroke-width="0.7" />
<rect x="519.7" y="184.9" width="116.0" height="5.199999999999989" rx="0" fill="none" stroke="#3c3c3c" stroke-width="0.8" />
<path d="M528.4 195.2 L531 190.1 H598 L600.7 195.2 Z" fill="none" stroke="#3c3c3c" stroke-width="0.7" />
<line x1="540" y1="191" x2="590" y2="191" stroke="#777" stroke-width="1.0" />
<rect x="523" y="195.2" width="82" height="5.400000000000006" rx="0" fill="none" stroke="#3c3c3c" stroke-width="0.8" />
<rect x="543" y="195.2" width="10" height="2.3000000000000114" rx="0" fill="none" stroke="#3c3c3c" stroke-width="0.5" />
<rect x="575" y="195.2" width="10" height="2.3000000000000114" rx="0" fill="none" stroke="#3c3c3c" stroke-width="0.5" />
<line x1="512.7" y1="169.4" x2="512.7" y2="200.6" stroke="#3c3c3c" stroke-width="0.6" />
<path d="M512.70 169.40 L513.53 172.00 L511.87 172.00 Z" fill="#3c3c3c"/>
<path d="M512.70 200.60 L511.87 198.00 L513.53 198.00 Z" fill="#3c3c3c"/>
<text x="511.5" y="185.6" font-family="Liberation Serif" font-size="8.5" font-weight="bold" fill="#333" text-anchor="middle" transform="rotate(-90 511.5 185.6)">D</text>
<line x1="510" y1="169.4" x2="519.7" y2="169.4" stroke="#3c3c3c" stroke-width="0.5" />
<line x1="510" y1="200.6" x2="523" y2="200.6" stroke="#3c3c3c" stroke-width="0.5" />
<line x1="523" y1="218" x2="605" y2="218" stroke="#3c3c3c" stroke-width="0.6" />
<path d="M523.00 218.00 L525.60 217.17 L525.60 218.83 Z" fill="#3c3c3c"/>
<path d="M605.00 218.00 L602.40 218.83 L602.40 217.17 Z" fill="#3c3c3c"/>
<line x1="523" y1="200.6" x2="523" y2="220" stroke="#3c3c3c" stroke-width="0.6" />
<line x1="605" y1="200.6" x2="605" y2="220" stroke="#3c3c3c" stroke-width="0.6" />
<text x="563.5" y="216.8" font-family="Liberation Serif" font-size="8" font-weight="bold" fill="#333" text-anchor="middle">K</text>
<text x="580.5" y="189.5" font-family="Liberation Serif" font-size="7" font-weight="bold" fill="#333" text-anchor="middle">N</text>
<rect x="560" y="177" width="9" height="7.900000000000006" rx="0" fill="none" stroke="#3c3c3c" stroke-width="0.7" />
<rect x="554" y="182.5" width="21" height="2.4000000000000057" rx="0" fill="none" stroke="#3c3c3c" stroke-width="0.5" />
<line x1="564.5" y1="176" x2="564.5" y2="202" stroke="#3c3c3c" stroke-width="0.5" />
<circle cx="683.7" cy="118.5" r="6.2" fill="none" stroke="#3c3c3c" stroke-width="0.8"/>
<line x1="680.5" y1="123.7" x2="680.5" y2="171.5" stroke="#3c3c3c" stroke-width="0.7" />
<line x1="687.4" y1="123.7" x2="687.4" y2="171.5" stroke="#3c3c3c" stroke-width="0.7" />
<line x1="683.5" y1="124.7" x2="683.5" y2="171.5" stroke="#3c3c3c" stroke-width="0.4" />
<path d="M679.5 171.5 H688.9 V178 Q688.9 185 682 185 H679.5 Z" fill="none" stroke="#3c3c3c" stroke-width="0.8" />
<path d="M680 174.5 Q685.5 175 687 179.5 Q685.5 184.5 680 184.5" fill="none" stroke="#3c3c3c" stroke-width="0.6" />
<rect x="673.3" y="173.6" width="6.2000000000000455" height="11.400000000000006" rx="0" fill="none" stroke="#3c3c3c" stroke-width="0.8" />
<line x1="673" y1="179.3" x2="690" y2="179.3" stroke="#3c3c3c" stroke-width="0.4" />
<rect x="665" y="174.6" width="8.299999999999955" height="9.400000000000006" rx="0" fill="none" stroke="#3c3c3c" stroke-width="0.8" />
<rect x="640" y="176.1" width="11" height="4.900000000000006" rx="0" fill="none" stroke="#3c3c3c" stroke-width="0.7" />
<line x1="730.4" y1="148.2" x2="774.7" y2="148.2" stroke="#3c3c3c" stroke-width="0.6" />
<path d="M730.40 148.20 L733.00 147.37 L733.00 149.03 Z" fill="#3c3c3c"/>
<path d="M774.70 148.20 L772.10 149.03 L772.10 147.37 Z" fill="#3c3c3c"/>
<text x="752.3" y="147.6" font-family="Liberation Serif" font-size="8" font-weight="bold" fill="#333" text-anchor="middle">A</text>
<line x1="730.4" y1="146" x2="730.4" y2="157.3" stroke="#3c3c3c" stroke-width="0.6" />
<line x1="774.7" y1="146" x2="774.7" y2="157.3" stroke="#3c3c3c" stroke-width="0.6" />
<rect x="730.4" y="157.3" width="44.30000000000007" height="27.69999999999999" rx="0" fill="none" stroke="#3c3c3c" stroke-width="0.9" />
<line x1="730.4" y1="170.9" x2="774.7" y2="170.9" stroke="#3c3c3c" stroke-width="0.7" />
<line x1="730.4" y1="158.7" x2="774.7" y2="158.7" stroke="#3c3c3c" stroke-width="0.5" />
<line x1="732.5" y1="159" x2="732.5" y2="185" stroke="#3c3c3c" stroke-width="0.5" />
<line x1="772.6" y1="159" x2="772.6" y2="185" stroke="#3c3c3c" stroke-width="0.5" />
<path d="M745 170.9 Q752.5 168 760 170.9" fill="none" stroke="#3c3c3c" stroke-width="0.6" />
<circle cx="740.6" cy="163.5" r="2.4" fill="none" stroke="#3c3c3c" stroke-width="0.9"/>
<line x1="736.6" y1="163.5" x2="744.6" y2="163.5" stroke="#3c3c3c" stroke-width="0.4" />
<circle cx="765" cy="163.5" r="2.4" fill="none" stroke="#3c3c3c" stroke-width="0.9"/>
<line x1="761" y1="163.5" x2="769" y2="163.5" stroke="#3c3c3c" stroke-width="0.4" />
<path d="M752.5 163.5 L754.5 165.6 L752.5 167.7 L750.5 165.6 Z" fill="none" stroke="#3c3c3c" stroke-width="0.8" />
<circle cx="736" cy="174.3" r="2.2" fill="#aaa" stroke="#3c3c3c" stroke-width="0.9"/>
<circle cx="769" cy="174.3" r="2.2" fill="#aaa" stroke="#3c3c3c" stroke-width="0.9"/>
<circle cx="736" cy="181.5" r="2.2" fill="#aaa" stroke="#3c3c3c" stroke-width="0.9"/>
<circle cx="769" cy="181.5" r="2.2" fill="#aaa" stroke="#3c3c3c" stroke-width="0.9"/>
<circle cx="752.5" cy="177.5" r="5.8" fill="#fff" stroke="#3c3c3c" stroke-width="0.8"/>
<circle cx="752.5" cy="177.5" r="3" fill="none" stroke="#3c3c3c" stroke-width="1.0"/>
<rect x="718.6" y="182.9" width="68.60000000000002" height="7.299999999999983" rx="0" fill="none" stroke="#3c3c3c" stroke-width="0.8" />
<rect x="720" y="178.5" width="7" height="4.400000000000006" rx="0" fill="none" stroke="#3c3c3c" stroke-width="0.8" />
<rect x="779" y="178.5" width="7" height="4.400000000000006" rx="0" fill="none" stroke="#3c3c3c" stroke-width="0.8" />
<line x1="734" y1="191" x2="772" y2="191" stroke="#888" stroke-width="0.9" />
<path d="M716.5 195.4 L718.6 190.2 H787 L788.6 195.4 Z" fill="none" stroke="#3c3c3c" stroke-width="0.8" />
<rect x="707" y="195.4" width="91" height="5.599999999999994" rx="0" fill="none" stroke="#3c3c3c" stroke-width="0.9" />
<line x1="707" y1="209.3" x2="798" y2="209.3" stroke="#3c3c3c" stroke-width="0.6" />
<path d="M707.00 209.30 L709.60 208.47 L709.60 210.13 Z" fill="#3c3c3c"/>
<path d="M798.00 209.30 L795.40 210.13 L795.40 208.47 Z" fill="#3c3c3c"/>
<line x1="707" y1="201" x2="707" y2="212" stroke="#3c3c3c" stroke-width="0.6" />
<line x1="798" y1="201" x2="798" y2="212" stroke="#3c3c3c" stroke-width="0.6" />
<text x="752.5" y="206.5" font-family="Liberation Serif" font-size="8" font-weight="bold" fill="#333" text-anchor="middle">J</text>
<line x1="801.7" y1="157.3" x2="801.7" y2="190.2" stroke="#3c3c3c" stroke-width="0.6" />
<path d="M801.70 157.30 L802.53 159.90 L800.87 159.90 Z" fill="#3c3c3c"/>
<path d="M801.70 190.20 L800.87 187.60 L802.53 187.60 Z" fill="#3c3c3c"/>
<text x="799.5" y="174" font-family="Liberation Serif" font-size="8" font-weight="bold" fill="#333" text-anchor="middle" transform="rotate(-90 799.5 174)">H</text>
<line x1="812.6" y1="157.3" x2="812.6" y2="200.2" stroke="#3c3c3c" stroke-width="0.6" />
<path d="M812.60 157.30 L813.43 159.90 L811.77 159.90 Z" fill="#3c3c3c"/>
<path d="M812.60 200.20 L811.77 197.60 L813.43 197.60 Z" fill="#3c3c3c"/>
<text x="810.5" y="178.5" font-family="Liberation Serif" font-size="8" font-weight="bold" fill="#333" text-anchor="middle" transform="rotate(-90 810.5 178.5)">I</text>
<line x1="774.7" y1="157.3" x2="815" y2="157.3" stroke="#3c3c3c" stroke-width="0.6" />
<line x1="788" y1="190.2" x2="805" y2="190.2" stroke="#3c3c3c" stroke-width="0.6" />
<line x1="798" y1="200.2" x2="815" y2="200.2" stroke="#3c3c3c" stroke-width="0.6" />
<line x1="752.5" y1="160" x2="752.5" y2="205" stroke="#3c3c3c" stroke-width="0.4" /></svg>
</body></html>
